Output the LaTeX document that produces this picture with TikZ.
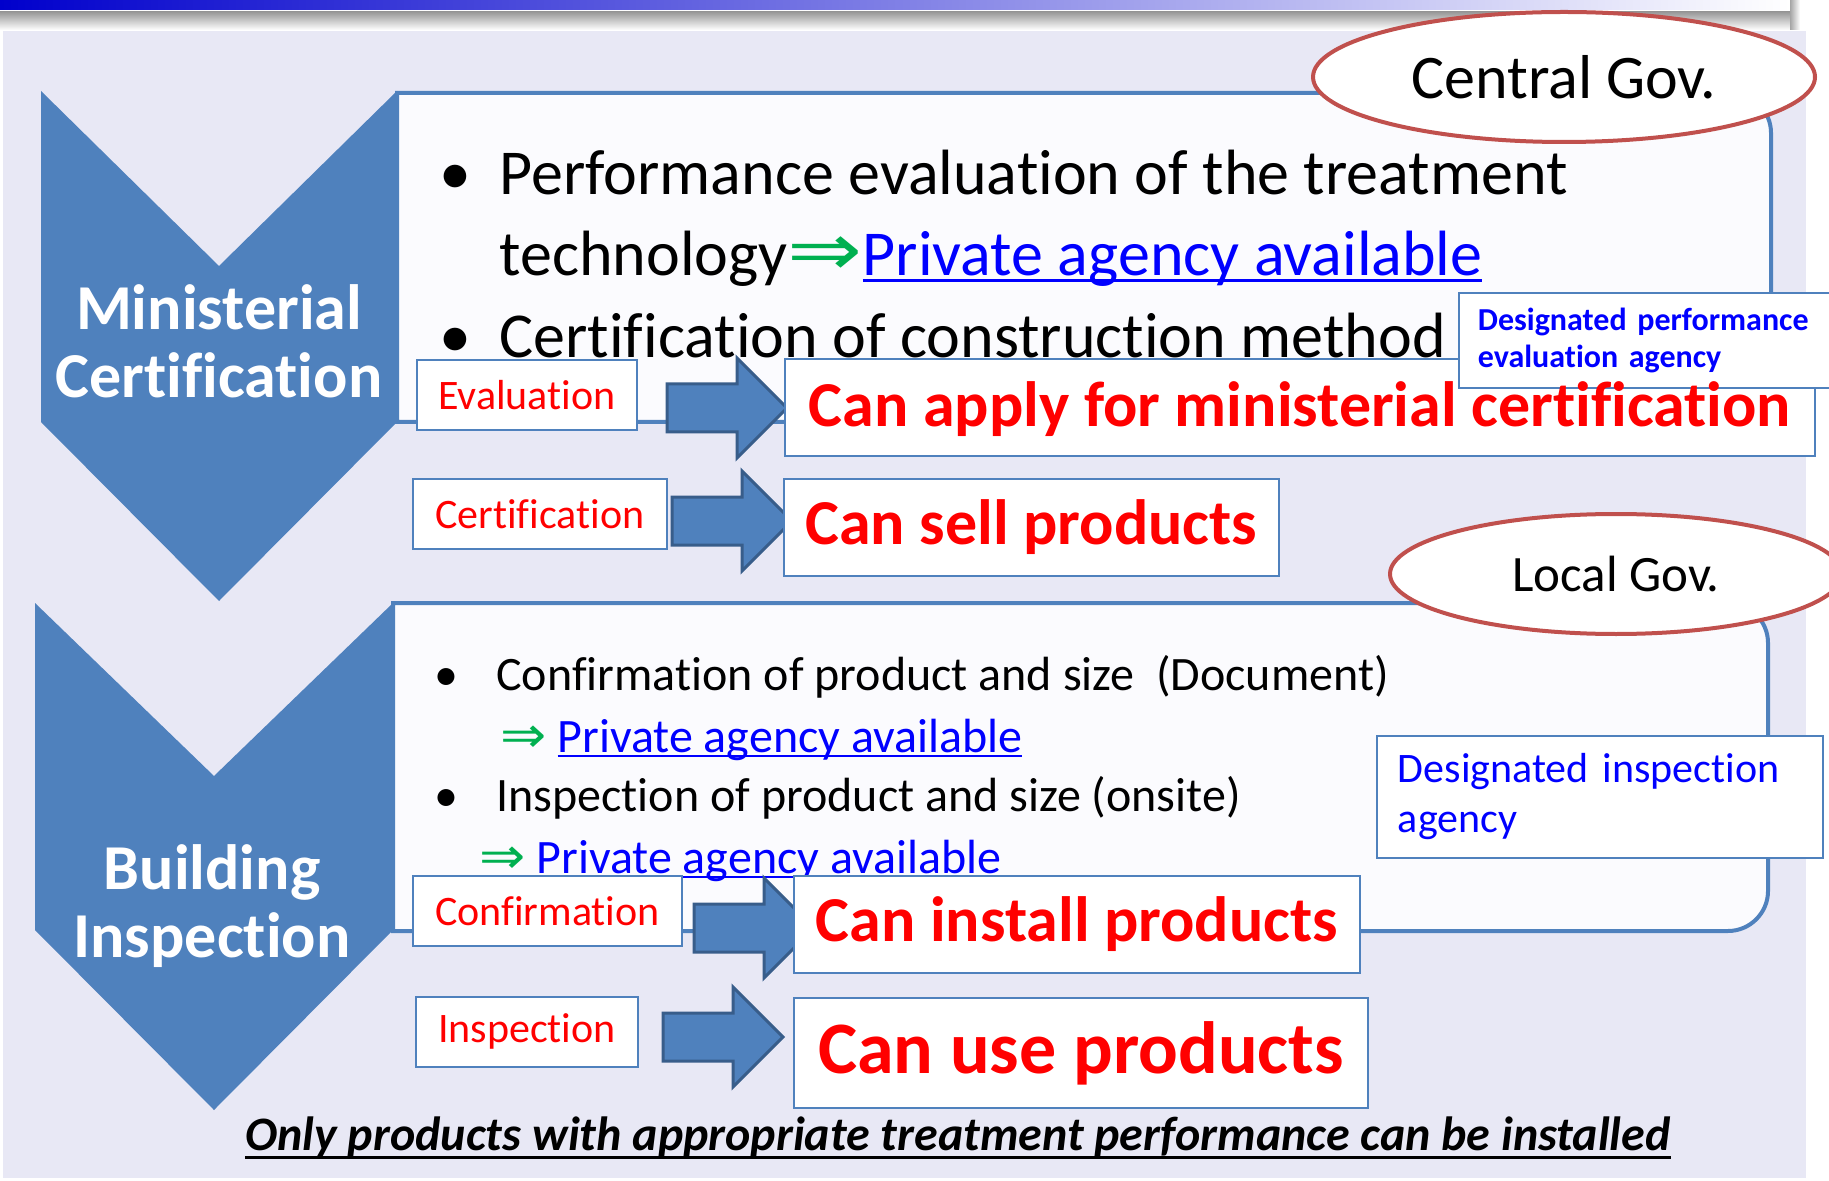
\documentclass[tikz,border=0pt]{standalone}
\usepackage{fontspec}
\setmainfont{Carlito}[Ligatures=NoCommon]
\newfontfamily\symfont{DejaVu Sans}
\usetikzlibrary{shapes.geometric}
\definecolor{bgpanel}{HTML}{E8E8F5}
\definecolor{boxfill}{HTML}{FBFBFE}
\definecolor{accblue}{HTML}{4F81BD}
\definecolor{darkblue}{HTML}{385D8A}
\definecolor{ellred}{HTML}{C0504D}
\definecolor{txtred}{HTML}{FF0000}
\definecolor{txtblue}{HTML}{0000FF}
\definecolor{arrgreen}{HTML}{00B050}
\definecolor{barblue}{HTML}{0000CC}
\newsavebox\ulbox
\newcommand\myul[3]{\sbox\ulbox{#3}\leavevmode\rlap{\rule[-#2]{\wd\ulbox}{#1}}\usebox\ulbox}
\newcommand\grarrow[2]{{\color{arrgreen}\symfont\scalebox{#1}[#2]{⇒}}}
\newcommand\tI{t\kern0pt i}
\newcommand\fI{f\kern0pt i}
\begin{document}
\begin{tikzpicture}[x=0.5pt,y=-0.5pt,
  panelbox/.style={draw=accblue, line width=2pt, fill=boxfill},
  chev/.style={fill=accblue},
  chevtext/.style={text=white, font=\fontsize{32}{38}\selectfont\bfseries, anchor=base, inner sep=0},
  govell/.style={ellipse, draw=ellred, line width=2pt, fill=white, inner sep=0},
  bodytxt/.style={anchor=base west, inner sep=0, font=\fontsize{32}{38}\selectfont},
  smalltxt/.style={anchor=base west, inner sep=0, font=\fontsize{24}{29}\selectfont},
  bulletsty/.style={anchor=base, inner sep=0},
  lblbox/.style={draw=accblue, line width=0.9pt, fill=white, text=txtred, font=\fontsize{21}{25}\selectfont, inner sep=0, anchor=north west},
  resbox/.style={draw=accblue, line width=0.9pt, fill=white, text=txtred, font=\fontsize{32}{38}\selectfont\bfseries, inner sep=0, anchor=north west},
  agbox/.style={draw=accblue, line width=0.9pt, fill=white, text=txtblue, anchor=north west, align=left, inner ysep=0},
  barrowsty/.style={fill=accblue, draw=darkblue, line width=1.5pt, line join=miter},
  pics/barrow/.style={code={\path[barrowsty] (0,-24) -- (70,-24) -- (70,-50) -- (120,0) -- (70,50) -- (70,24) -- (0,24) -- cycle;}}
]
\useasboundingbox (0,0) rectangle (1829,1181);
% panel and title bar
\fill[bgpanel] (3,31) rectangle (1806,1178);
\shade[left color=barblue, right color=white] (0,0) rectangle (1790,10);
\shade[top color=black!40, bottom color=white] (0,12) rectangle (1790,30);
\shade[left color=black!35, right color=white] (1790,0) rectangle (1800,30);
% content boxes
\path[panelbox] (397,93) -- (1731,93) .. controls (1753,93) and (1771,111) .. (1771,133) -- (1771,382) .. controls (1771,404) and (1753,422) .. (1731,422) -- (397,422) -- cycle;
\path[panelbox] (393,603) -- (1728,603) .. controls (1750,603) and (1768,621) .. (1768,643) -- (1768,891) .. controls (1768,913) and (1750,931) .. (1728,931) -- (393,931) -- cycle;
% chevrons
\fill[chev] (41,91) -- (219,266) -- (397,91) -- (397,422) -- (219,601) -- (41,422) -- cycle;
\fill[chev] (35,603) -- (214,776) -- (393,603) -- (393,930) -- (214,1110) -- (35,930) -- cycle;
\node[chevtext] (min1) at (219,330) {Ministerial};
\node[chevtext] (min2) at (219,398) {Cer\tI\fI ca\tI on};
\node[chevtext] (bld1) at (212,889) {Building};
\node[chevtext] (bld2) at (212,957) {Inspec\tI on};
% government ellipses
\node[govell, minimum width=251pt, minimum height=65pt, font=\fontsize{31}{36}\selectfont] (central) at (1564,77) {Central Gov.};
\node[govell, minimum width=226pt, minimum height=60pt, font=\fontsize{25.5}{30}\selectfont] (local) at (1616,574) {Local Gov.};
% upper box text
\node[bulletsty, font=\fontsize{32}{38}\selectfont] (bA1) at (455,195) {•};
\node[bodytxt] (tA1) at (499,195) {Performance evalua\tI on of the treatment};
\node[bodytxt] (tA2) at (499,276) {technology\grarrow{1.4}{1.15}{\color{txtblue}\myul{1.5pt}{3pt}{Private agency available}}};
\node[bulletsty, font=\fontsize{32}{38}\selectfont] (bA2) at (455,358) {•};
\node[bodytxt] (tA3) at (499,358) {Cer\tI\fI ca\tI on of construc\tI on method};
% lower box text
\node[bulletsty, font=\fontsize{24}{29}\selectfont] (bB1) at (446,690) {•};
\node[smalltxt] (tB1) at (496,690) {Con\fI rma\tI on of product and size~ (Document)};
\node[smalltxt] (tB2) at (500,752) {\grarrow{1.15}{1.05}\ {\color{txtblue}\myul{1.2pt}{2.5pt}{Private agency available}}};
\node[bulletsty, font=\fontsize{24}{29}\selectfont] (bB2) at (446,811) {•};
\node[smalltxt] (tB3) at (496,811) {Inspec\tI on of product and size (onsite)};
\node[smalltxt] (tB4) at (479,873) {\grarrow{1.15}{1.05}\ {\color{txtblue}\myul{1.2pt}{2.5pt}{Private agency available}}};
% step labels
\node[lblbox, minimum width=110pt, minimum height=35pt] (eval) at (416,359) {Evalua\tI on};
\node[lblbox, minimum width=127pt, minimum height=35pt] (cert) at (412,478) {Cer\tI\fI ca\tI on};
\node[lblbox, minimum width=134.5pt, minimum height=35pt] (conf) at (412,875) {Con\fI rma\tI on};
\node[lblbox, minimum width=111pt, minimum height=35pt] (insp) at (415,996) {Inspec\tI on};
% block arrows
\pic at (667,408) {barrow};
\pic at (672,521) {barrow};
\pic at (694,928) {barrow};
\pic at (663,1037) {barrow};
% results
\node[resbox, minimum width=515pt, minimum height=48.5pt] (applybox) at (784,358) {};
\node[agbox, font=\fontsize{16}{18.5}\selectfont\bfseries, text width=169.5pt, inner xsep=9.5pt, minimum width=188.5pt, minimum height=47.5pt] (dperf) at (1458,292) {Designated performance\\evalua\tI on agency};
\node[text=txtred, font=\fontsize{32}{38}\selectfont\bfseries, inner sep=0] (apply) at ([yshift=-1pt]applybox.center) {Can apply for ministerial cer\tI\fI ca\tI on};
\node[resbox, minimum width=247.5pt, minimum height=48.5pt] (sell) at (783,478) {Can sell products};
\node[resbox, minimum width=283pt, minimum height=48.5pt] (install) at (793,875) {Can install products};
\node[resbox, minimum width=287pt, minimum height=55pt, font=\fontsize{37}{44}\selectfont\bfseries] (use) at (793,997) {Can use products};
\node[agbox, font=\fontsize{21}{25}\selectfont, text width=202pt, inner xsep=10.5pt, minimum width=223pt, minimum height=61pt] (dinsp) at (1376,735) {Designated inspec\tI on\\agency};
% bottom note
\node[anchor=base west, inner sep=0, font=\fontsize{24}{29}\selectfont\bfseries\itshape] (note) at (245,1150) {\myul{1.5pt}{4.5pt}{Only products with appropriate treatment performance can be installed}};
\end{tikzpicture}
\end{document}
